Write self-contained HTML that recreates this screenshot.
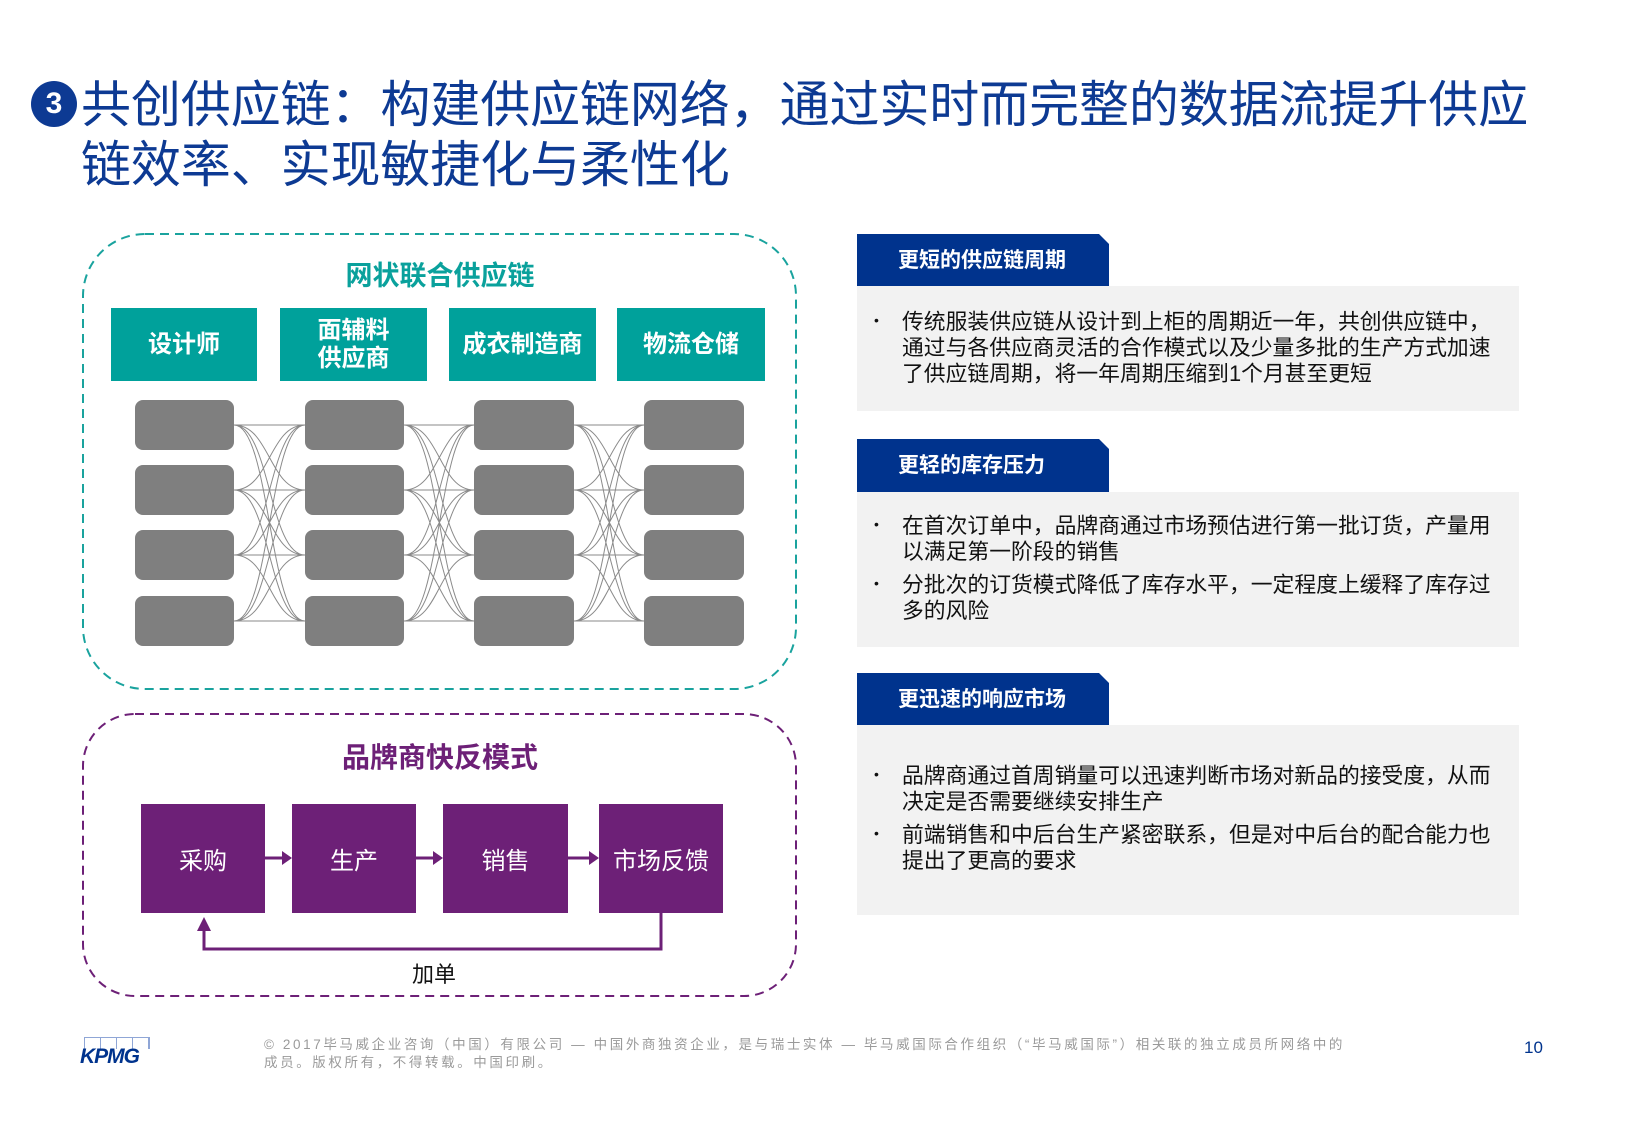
<!DOCTYPE html>
<html><head><meta charset="utf-8">
<style>
*{margin:0;padding:0;box-sizing:border-box}
body{width:1625px;height:1125px;background:#fff;position:relative;overflow:hidden;font-family:"Liberation Sans","Noto Sans CJK SC",sans-serif}
.a{position:absolute;white-space:nowrap}
.title{color:#0d3a93;font-size:50px;line-height:60px;left:81px;letter-spacing:-0.1px}
.hdr{position:absolute;background:#00a19b;color:#fff;font-weight:bold;font-size:24px;display:flex;align-items:center;justify-content:center;text-align:center;line-height:28px}
.pb{position:absolute;background:#6d2077;color:#fff;font-size:24px;display:flex;align-items:center;justify-content:center;top:804px;height:109px}
.tab{position:absolute;left:857px;width:252px;height:53px;background:#00338d;color:#fff;font-weight:bold;font-size:21px;line-height:53px;padding-left:41px;clip-path:polygon(0 0,242px 0,252px 10px,252px 100%,0 100%)}
.box{position:absolute;left:857px;width:662px;background:#f2f2f2}
.t{position:absolute;left:902px;font-size:21.8px;color:#111;white-space:nowrap;line-height:26px}
.b{position:absolute;left:874px;font-size:14px;color:#111}
</style></head><body>

<div class="a" style="left:31px;top:81px;width:46px;height:46px;border-radius:50%;background:#0d3a93;color:#fff;font-weight:bold;font-size:30px;line-height:46px;text-align:center">3</div>
<div class="a title" style="top:75px">共创供应链：构建供应链网络，通过实时而完整的数据流提升供应</div>
<div class="a title" style="top:135px">链效率、实现敏捷化与柔性化</div>

<svg class="a" style="left:0;top:0" width="820" height="1020">
<rect x="83" y="234" width="713" height="455" rx="62" fill="none" stroke="#1aa39e" stroke-width="2" stroke-dasharray="9,6"/>
<rect x="83" y="714" width="713" height="282" rx="52" fill="none" stroke="#6d2077" stroke-width="2" stroke-dasharray="9,6"/>
<g fill="#7f7f7f">
<rect x="135" y="400" width="99" height="50" rx="8"/><rect x="135" y="465" width="99" height="50" rx="8"/><rect x="135" y="530" width="99" height="50" rx="8"/><rect x="135" y="596" width="99" height="50" rx="8"/>
<rect x="305" y="400" width="99" height="50" rx="8"/><rect x="305" y="465" width="99" height="50" rx="8"/><rect x="305" y="530" width="99" height="50" rx="8"/><rect x="305" y="596" width="99" height="50" rx="8"/>
<rect x="474" y="400" width="100" height="50" rx="8"/><rect x="474" y="465" width="100" height="50" rx="8"/><rect x="474" y="530" width="100" height="50" rx="8"/><rect x="474" y="596" width="100" height="50" rx="8"/>
<rect x="644" y="400" width="100" height="50" rx="8"/><rect x="644" y="465" width="100" height="50" rx="8"/><rect x="644" y="530" width="100" height="50" rx="8"/><rect x="644" y="596" width="100" height="50" rx="8"/>
</g>
<g fill="none" stroke="#8a8a8a" stroke-width="1">
<path d="M234 425C270 425 269 425 305 425M234 425C270 425 269 490 305 490M234 425C270 425 269 555 305 555M234 425C270 425 269 621 305 621
M234 490C270 490 269 425 305 425M234 490C270 490 269 490 305 490M234 490C270 490 269 555 305 555M234 490C270 490 269 621 305 621
M234 555C270 555 269 425 305 425M234 555C270 555 269 490 305 490M234 555C270 555 269 555 305 555M234 555C270 555 269 621 305 621
M234 621C270 621 269 425 305 425M234 621C270 621 269 490 305 490M234 621C270 621 269 555 305 555M234 621C270 621 269 621 305 621"/>
<path transform="translate(170,0)" d="M234 425C270 425 269 425 304 425M234 425C270 425 269 490 304 490M234 425C270 425 269 555 304 555M234 425C270 425 269 621 304 621
M234 490C270 490 269 425 304 425M234 490C270 490 269 490 304 490M234 490C270 490 269 555 304 555M234 490C270 490 269 621 304 621
M234 555C270 555 269 425 304 425M234 555C270 555 269 490 304 490M234 555C270 555 269 555 304 555M234 555C270 555 269 621 304 621
M234 621C270 621 269 425 304 425M234 621C270 621 269 490 304 490M234 621C270 621 269 555 304 555M234 621C270 621 269 621 304 621"/>
<path transform="translate(340,0)" d="M234 425C270 425 269 425 304 425M234 425C270 425 269 490 304 490M234 425C270 425 269 555 304 555M234 425C270 425 269 621 304 621
M234 490C270 490 269 425 304 425M234 490C270 490 269 490 304 490M234 490C270 490 269 555 304 555M234 490C270 490 269 621 304 621
M234 555C270 555 269 425 304 425M234 555C270 555 269 490 304 490M234 555C270 555 269 555 304 555M234 555C270 555 269 621 304 621
M234 621C270 621 269 425 304 425M234 621C270 621 269 490 304 490M234 621C270 621 269 555 304 555M234 621C270 621 269 621 304 621"/>
</g>
<g stroke="#6d2077" stroke-width="3" fill="none">
<line x1="265" y1="858" x2="283" y2="858"/><line x1="416" y1="858" x2="434" y2="858"/><line x1="568" y1="858" x2="590" y2="858"/>
<polyline points="661,913 661,949 204,949 204,930"/>
</g>
<g fill="#6d2077">
<polygon points="282,851 292,858 282,865"/><polygon points="433,851 443,858 433,865"/><polygon points="589,851 599,858 589,865"/>
<polygon points="197,931 204,917 211,931"/>
</g>
</svg>

<div class="a" style="left:340px;top:254px;width:200px;text-align:center;font-size:27px;font-weight:bold;color:#0aa19c">网状联合供应链</div>
<div class="hdr" style="left:111px;top:308px;width:146px;height:73px">设计师</div>
<div class="hdr" style="left:280px;top:308px;width:147px;height:73px">面辅料<br>供应商</div>
<div class="hdr" style="left:449px;top:308px;width:147px;height:73px">成衣制造商</div>
<div class="hdr" style="left:617px;top:308px;width:148px;height:73px">物流仓储</div>

<div class="a" style="left:320px;top:736px;width:240px;text-align:center;font-size:28px;font-weight:bold;color:#6d2077">品牌商快反模式</div>
<div class="pb" style="left:141px;width:124px">采购</div>
<div class="pb" style="left:292px;width:124px">生产</div>
<div class="pb" style="left:443px;width:125px">销售</div>
<div class="pb" style="left:599px;width:124px">市场反馈</div>
<div class="a" style="left:394px;top:957px;width:80px;text-align:center;font-size:22px;color:#111">加单</div>

<div class="tab" style="top:234px">更短的供应链周期</div>
<div class="box" style="top:286px;height:125px"></div>
<div class="b" style="top:312px">•</div>
<div class="t" style="top:309px">传统服装供应链从设计到上柜的周期近一年，共创供应链中，</div>
<div class="t" style="top:335px">通过与各供应商灵活的合作模式以及少量多批的生产方式加速</div>
<div class="t" style="top:361px">了供应链周期，将一年周期压缩到1个月甚至更短</div>

<div class="tab" style="top:439px">更轻的库存压力</div>
<div class="box" style="top:492px;height:155px"></div>
<div class="b" style="top:516px">•</div>
<div class="t" style="top:513px">在首次订单中，品牌商通过市场预估进行第一批订货，产量用</div>
<div class="t" style="top:539px">以满足第一阶段的销售</div>
<div class="b" style="top:575px">•</div>
<div class="t" style="top:572px">分批次的订货模式降低了库存水平，一定程度上缓释了库存过</div>
<div class="t" style="top:598px">多的风险</div>

<div class="tab" style="top:673px">更迅速的响应市场</div>
<div class="box" style="top:725px;height:190px"></div>
<div class="b" style="top:766px">•</div>
<div class="t" style="top:763px">品牌商通过首周销量可以迅速判断市场对新品的接受度，从而</div>
<div class="t" style="top:789px">决定是否需要继续安排生产</div>
<div class="b" style="top:825px">•</div>
<div class="t" style="top:822px">前端销售和中后台生产紧密联系，但是对中后台的配合能力也</div>
<div class="t" style="top:848px">提出了更高的要求</div>

<div class="a" style="left:84px;top:1037px;width:66px;height:12px;border:1px solid #8fa6d6;border-bottom:none;background:repeating-linear-gradient(90deg,transparent 0 15px,#8fa6d6 15px 16px)"></div>
<div class="a" style="left:80px;top:1045px;font-size:21px;font-weight:bold;font-style:italic;color:#00338d;letter-spacing:-1px">KPMG</div>
<div class="a" style="left:264px;top:1036px;font-size:13.5px;color:#9a9a9a;line-height:18px;letter-spacing:2.6px">© 2017毕马威企业咨询（中国）有限公司 — 中国外商独资企业，是与瑞士实体 — 毕马威国际合作组织（“毕马威国际”）相关联的独立成员所网络中的<br>成员。版权所有，不得转载。中国印刷。</div>
<div class="a" style="left:1524px;top:1038px;font-size:17px;color:#00338d">10</div>
</body></html>
